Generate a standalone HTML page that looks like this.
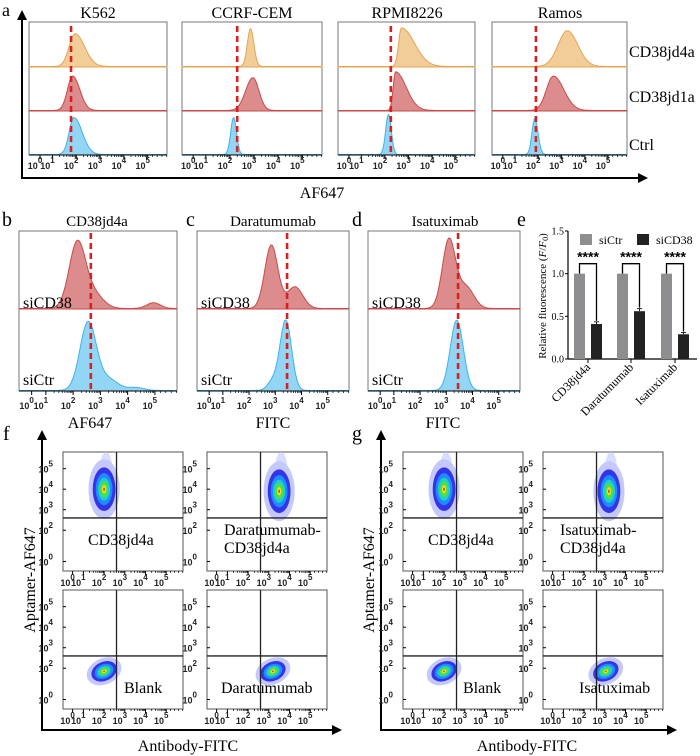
<!DOCTYPE html>
<html><head><meta charset="utf-8">
<style>
html,body{margin:0;padding:0;background:#fff;}
svg{display:block;font-family:"Liberation Serif",serif;}
.tk{font-family:"Liberation Sans",sans-serif;font-size:9px;font-weight:bold;fill:#222;}
</style></head>
<body>
<svg id="fig" width="700" height="756" viewBox="0 0 700 756" xmlns="http://www.w3.org/2000/svg">
<defs>
<marker id="arr" viewBox="0 0 10 10" refX="8" refY="5" markerWidth="5" markerHeight="5" orient="auto"><path d="M0,0 L10,5 L0,10 z" fill="#000"/></marker>
</defs>
<text x="2" y="16" font-size="18">a</text>
<text x="2" y="226" font-size="20">b</text>
<text x="186" y="226" font-size="20">c</text>
<text x="352" y="226" font-size="20">d</text>
<text x="517" y="226" font-size="20">e</text>
<text x="3" y="440" font-size="20">f</text>
<text x="352" y="440" font-size="20">g</text>
<text x="98" y="18" font-size="16" text-anchor="middle">K562</text>
<text x="252" y="18" font-size="16" text-anchor="middle">CCRF-CEM</text>
<text x="407" y="18" font-size="16" text-anchor="middle">RPMI8226</text>
<text x="560" y="18" font-size="16" text-anchor="middle">Ramos</text>
<text x="629" y="57" font-size="16">CD38jd4a</text>
<text x="629" y="102" font-size="16">CD38jd1a</text>
<text x="629" y="150" font-size="16">Ctrl</text>
<line x1="22" y1="178" x2="22" y2="12" stroke="#000" stroke-width="2" marker-end="url(#arr)"/>
<line x1="21" y1="178" x2="646" y2="178" stroke="#000" stroke-width="2" marker-end="url(#arr)"/>
<text x="322" y="198" font-size="16" text-anchor="middle">AF647</text>
<text x="97" y="226" font-size="15" text-anchor="middle">CD38jd4a</text>
<text x="273" y="226" font-size="15" text-anchor="middle">Daratumumab</text>
<text x="445" y="226" font-size="15" text-anchor="middle">Isatuximab</text>
<text x="90" y="428" font-size="16" text-anchor="middle">AF647</text>
<text x="273" y="428" font-size="16" text-anchor="middle">FITC</text>
<text x="443" y="428" font-size="16" text-anchor="middle">FITC</text>
<line x1="42" y1="730" x2="42" y2="432" stroke="#000" stroke-width="2" marker-end="url(#arr)"/>
<line x1="41" y1="730" x2="340" y2="730" stroke="#000" stroke-width="2" marker-end="url(#arr)"/>
<line x1="381" y1="730" x2="381" y2="432" stroke="#000" stroke-width="2" marker-end="url(#arr)"/>
<line x1="380" y1="730" x2="675" y2="730" stroke="#000" stroke-width="2" marker-end="url(#arr)"/>
<text transform="translate(35,580) rotate(-90)" font-size="16" text-anchor="middle">Aptamer-AF647</text>
<text transform="translate(374,580) rotate(-90)" font-size="16" text-anchor="middle">Aptamer-AF647</text>
<text x="188" y="751" font-size="16" text-anchor="middle">Antibody-FITC</text>
<text x="527" y="751" font-size="16" text-anchor="middle">Antibody-FITC</text>
<g id="layer"></g>
</svg>
<script>
// ===== Data =====
const aLines = ['K562','CCRF-CEM','RPMI8226','Ramos'];
const aGate = [1.78, 2.3, 2.25, 1.9];
const aPeakCenters = [[1.95,1.85,1.9],[2.85,2.95,2.15],[2.7,2.45,2.15],[3.25,2.65,1.85]];
const aPeakLeftW  = [[0.25,0.22,0.2],[0.13,0.3,0.12],[0.12,0.1,0.12],[0.4,0.3,0.12]];
const aPeakRightW = [[0.4,0.3,0.35],[0.14,0.25,0.12],[0.55,0.45,0.12],[0.45,0.45,0.14]];
const aPeakHeights = [[0.78,0.82,0.88],[0.9,0.78,0.88],[0.92,0.92,0.95],[0.85,0.82,0.85]];
const bdTitles = ['CD38jd4a','Daratumumab','Isatuximab'];
const bdGate = [2.65, 3.45, 3.45];
const bdRedCenters = [[2.15,2.75,4.95],[2.85,3.75],[3.1,3.75]];
const bdRedWidths = [[0.3,0.35,0.25],[0.25,0.3],[0.25,0.3]];
const bdRedHeights = [[0.9,0.2,0.08],[0.88,0.3],[0.95,0.3]];
const bdBlueCenters = [[2.55,3.3,4.3],[3.4,2.9],[3.4]];
const bdBlueWidths = [[0.3,0.35,0.3],[0.22,0.2],[0.25]];
const bdBlueHeights = [[0.92,0.15,0.04],[0.95,0.12],[0.95]];
const eCategories = ['CD38jd4a','Daratumumab','Isatuximab'];
const eSiCtr = [1.0, 1.0, 1.0];
const eSiCD38 = [0.41, 0.56, 0.29];
const eErr = [0.025, 0.03, 0.02];
const eTicks = [0.0, 0.5, 1.0, 1.5];
const eSig = ['****','****','****'];
const fLabels = [['CD38jd4a'],['Daratumumab-','CD38jd4a'],['Blank'],['Daratumumab']];
const gLabels = [['CD38jd4a'],['Isatuximab-','CD38jd4a'],['Blank'],['Isatuximab']];
const fClusterX = [2.0, 3.5, 2.0, 3.2];
const fClusterY = [4.0, 3.9, 1.85, 1.85];
const gClusterX = [2.0, 3.2, 2.0, 3.05];
const gClusterY = [4.0, 3.9, 1.85, 1.85];
const fLabelOffsetX = [25, 17, 61, 14];
const gLabelOffsetX = [25, 17, 60, 36];
const quadGate = [2.6, 2.6];

const NS='http://www.w3.org/2000/svg';
const layer=document.getElementById('layer');
function mk(tag,attrs,parent){const e=document.createElementNS(NS,tag);for(const k in attrs)e.setAttribute(k,attrs[k]);(parent||layer).appendChild(e);return e;}
function frac(d){return d<1?0.08+0.09*Math.max(d,-0.5):0.17+(d-1)*0.1725;}
function xScale(x0,w){return d=>x0+frac(d)*w;}

function ticksBottom(x0,w,yb,labY){
  const sx=xScale(x0,w);
  for(let d=0;d<=5;d++){
    const t=mk('line',{x1:sx(d),x2:sx(d),y1:yb,y2:yb+4,stroke:'#000','stroke-width':1});
    
    
    if(d>=1&&d<5){for(let k=2;k<10;k++){const v=d+Math.log10(k);const m=mk('line',{x1:sx(v),x2:sx(v),y1:yb,y2:yb+2,stroke:'#000','stroke-width':0.7});
      
      }}
    const tx=mk('text',{x:sx(d)-5,y:labY,class:'tk','text-anchor':'middle'});
    
    
    tx.textContent='10';
    const sp=mk('tspan',{dy:-6,'font-size':8},tx);sp.textContent=String(d);
  }
  for(let v=5.2;v<5.9;v+=0.2){const m=mk('line',{x1:sx(v),x2:sx(v),y1:yb,y2:yb+2,stroke:'#000','stroke-width':0.7});
    
    }
}
function hist(x0,w,base,hgt,cs,wl,wr,hs,fill,stroke,name){
  let pts=[];
  for(let i=0;i<=200;i++){const px=x0+w*i/200;
    const f=i/200;const d=f<0.17?(f-0.08)/0.09:1+(f-0.17)/0.1725;
    let v=0;for(let j=0;j<cs.length;j++){const s=d<cs[j]?wl[j]:wr[j];v+=hs[j]*Math.exp(-Math.pow(d-cs[j],2)/(2*s*s));}
    pts.push([px,base-Math.min(v,1)*hgt-0.5]);}
  let dstr='M'+x0+','+base+' '+pts.map(p=>'L'+p[0].toFixed(1)+','+p[1].toFixed(1)).join(' ')+' L'+(x0+w)+','+base+' Z';
  const p=mk('path',{d:dstr,fill:fill,stroke:stroke,'stroke-width':1});
  
  
}
function gate(x,y1,y2,name){const l=mk('line',{x1:x,x2:x,y1:y1,y2:y2,stroke:'#d91f1f','stroke-width':2.6,'stroke-dasharray':'6,4'});
  
  }
const COL={o:['#f3cd98','#e3a453'],r:['#dc8c8c','#c94a4a'],b:['#93d5f5','#3fb2ea']};

// Panel a
const aBoxX=[29,182,338,492], aBoxW=[138,140,137,135];
const aTop=22,aBot=155,aRows=[67,111,155];
aLines.forEach((nm,i)=>{
  const x0=aBoxX[i],w=aBoxW[i];
  const r=mk('rect',{x:x0,y:aTop,width:w,height:aBot-aTop,fill:'none',stroke:'#777','stroke-width':1});
  
  
  const keys=['o','r','b'], rowNames=['cd38jd4a','cd38jd1a','ctrl'];
  for(let k=0;k<3;k++){
    const base=aRows[k];
    const bl=mk('line',{x1:x0,x2:x0+w,y1:base,y2:base,stroke:COL[keys[k]][0],'stroke-width':1});
    
    
    hist(x0,w,base,42,[aPeakCenters[i][k]],[aPeakLeftW[i][k]],[aPeakRightW[i][k]],[aPeakHeights[i][k]],COL[keys[k]][0],COL[keys[k]][1],'histogram-'+nm.toLowerCase()+'-'+rowNames[k]);
  }
  const ax=mk('line',{x1:x0,x2:x0+w,y1:aBot,y2:aBot,stroke:'#000','stroke-width':1});
  
  
  ticksBottom(x0,w,aBot,169);
  gate(xScale(x0,w)(aGate[i]),aTop+4,aBot,'gate-line-'+nm.toLowerCase());
});

// Panels b-d
const bdX=[19,197,368], bdW=[158,152,152], bdTop=231, bdMid=309, bdBot=391;
bdTitles.forEach((nm,i)=>{
  const x0=bdX[i],w=bdW[i];
  const r=mk('rect',{x:x0,y:bdTop,width:w,height:bdBot-bdTop,fill:'none',stroke:'#777','stroke-width':1});
  
  
  hist(x0,w,bdMid,72,bdRedCenters[i],bdRedWidths[i],bdRedWidths[i],bdRedHeights[i],COL.r[0],COL.r[1],'histogram-sicd38-'+nm.toLowerCase());
  hist(x0,w,bdBot,74,bdBlueCenters[i],bdBlueWidths[i],bdBlueWidths[i],bdBlueHeights[i],COL.b[0],COL.b[1],'histogram-sictr-'+nm.toLowerCase());
  const ax=mk('line',{x1:x0,x2:x0+w,y1:bdBot,y2:bdBot,stroke:'#000','stroke-width':1});
  
  
  ticksBottom(x0,w,bdBot,409);
  gate(xScale(x0,w)(bdGate[i]),bdTop+2,bdBot,'gate-line-'+nm.toLowerCase());
  const t1=mk('text',{x:x0+4,y:308,'font-size':16});
  
  
  t1.textContent='siCD38';
  const t2=mk('text',{x:x0+4,y:385,'font-size':16});
  
  
  t2.textContent='siCtr';
});

// Panel e
const eX0=568,eY0=359,eY15=231;
const ey=v=>eY0-(v/1.5)*(eY0-eY15);
const eCenters=[588,631,675];
const ax1=mk('line',{x1:eX0,x2:eX0,y1:eY15,y2:eY0,stroke:'#000','stroke-width':1.2});


const ax2=mk('line',{x1:eX0,x2:697,y1:eY0,y2:eY0,stroke:'#000','stroke-width':1.2});


eTicks.forEach(v=>{
  const t=mk('line',{x1:eX0-3,x2:eX0,y1:ey(v),y2:ey(v),stroke:'#000'});
  
  
  const l=mk('text',{x:eX0-4,y:ey(v)+3.5,'font-size':10,'text-anchor':'end'});
  
  
  l.textContent=v.toFixed(1);
});
eCategories.forEach((c,i)=>{
  const cx=eCenters[i];
  const g1=mk('rect',{x:cx-14,y:ey(eSiCtr[i]),width:11,height:eY0-ey(eSiCtr[i]),fill:'#8e8e90'});
  
  
  const g2=mk('rect',{x:cx+3,y:ey(eSiCD38[i]),width:11,height:eY0-ey(eSiCD38[i]),fill:'#222'});
  
  
  const eb=mk('path',{d:`M${cx+8.5},${ey(eSiCD38[i]+eErr[i])} V${ey(eSiCD38[i])} M${cx+6},${ey(eSiCD38[i]+eErr[i])} H${cx+11}`,stroke:'#222','stroke-width':1,fill:'none'});
  
  
  const tk=mk('line',{x1:cx,x2:cx,y1:eY0,y2:eY0+4,stroke:'#000'});
  
  
  const topY=ey(1.0)-10;
  const br=mk('path',{d:`M${cx-8.5},${ey(eSiCtr[i])} V${topY} H${cx+8.5} V${ey(eSiCD38[i]+eErr[i])-1}`,stroke:'#000','stroke-width':1.3,fill:'none'});
  
  
  const st=mk('text',{x:cx,y:topY-2,'font-size':14,'font-weight':'bold','text-anchor':'middle','font-family':'Liberation Sans,sans-serif'});
  
  
  st.textContent=eSig[i];
  const xl=mk('text',{transform:`translate(${cx+3},${eY0+9}) rotate(-45)`,'font-size':12,'text-anchor':'end'});
  
  
  xl.textContent=c;
});
const lg1=mk('rect',{x:580,y:234,width:12,height:11,fill:'#8e8e90'});


const lt1=mk('text',{x:599,y:244,'font-size':12});


lt1.textContent='siCtr';
const lg2=mk('rect',{x:637,y:234,width:12,height:11,fill:'#222'});


const lt2=mk('text',{x:656,y:244,'font-size':12});


lt2.textContent='siCD38';
const yl=mk('text',{transform:'translate(546,296) rotate(-90)','font-size':11,'text-anchor':'middle'});


yl.innerHTML='Relative fluorescence (<tspan font-style="italic">F</tspan>/<tspan font-style="italic">F</tspan><tspan font-size="8" dy="2">0</tspan><tspan dy="-2">)</tspan>';

// Panels f, g
function scatterPanel(x0,y0,w,h,cxD,cyD,labels,name,gx,gy,lx){
  const sx=d=>x0+frac(d)*w, sy=d=>y0+h-frac(d)*h;
  const r=mk('rect',{x:x0,y:y0,width:w,height:h,fill:'#fff',stroke:'#555','stroke-width':1});
  
  
  const cx=sx(cxD), cy=sy(cyD);
  const high=cyD>3;
  const rings=[['#c4c8fa',1.3],['#3434e8',0.95],['#1e8cff',0.7],['#20d0c8',0.5],['#50e040',0.34],['#e8e020',0.18],['#e04020',0.07]];
  const rx0=high?12:14, ry0=high?23:10;
  const grp=mk('g',{transform:`rotate(${high?0:-25},${cx},${cy})`});
  
  
  if(high){const s=mk('ellipse',{cx:cx+2,cy:y0+16,rx:6,ry:16,fill:'#d0d4ff',opacity:0.8},grp);
    
    }
  rings.forEach(([c,k])=>{const e=mk('ellipse',{cx:cx,cy:cy,rx:rx0*k,ry:ry0*k,fill:c},grp);
    
    });
  const vl=mk('line',{x1:sx(gx),x2:sx(gx),y1:y0,y2:y0+h,stroke:'#222','stroke-width':1.3});
  
  
  const hl=mk('line',{x1:x0,x2:x0+w,y1:sy(gy),y2:sy(gy),stroke:'#222','stroke-width':1.3});
  
  
  ticksBottom(x0,w,y0+h,y0+h+15);
  [0,2,3,4,5].forEach(d=>{const t=mk('text',{x:x0-10,y:sy(d)+4,class:'tk','text-anchor':'end'});
    
    
    t.textContent='10';const sp=mk('tspan',{dy:-6,'font-size':8},t);sp.textContent=String(d);
    const tk=mk('line',{x1:x0,x2:x0+3,y1:sy(d),y2:sy(d),stroke:'#000'});
    
    });
  const tx=x0+lx, ty=labels.length>1?y0+83:(high?y0+93:y0+103);
  labels.forEach((s,i)=>{const t=mk('text',{x:tx,y:ty+i*18,'font-size':16});
    
    
    t.textContent=s;});
}
const sX=[[63,207],[403,543]], sY=[452,590], sW=120, sH=119;
for(let k=0;k<4;k++){
  const col=k%2,row=Math.floor(k/2);
  scatterPanel(sX[0][col],sY[row],sW,sH,fClusterX[k],fClusterY[k],fLabels[k],'f'+k,quadGate[0],quadGate[1],fLabelOffsetX[k]);
  scatterPanel(sX[1][col],sY[row],sW,sH,gClusterX[k],gClusterY[k],gLabels[k],'g'+k,quadGate[0],quadGate[1],gLabelOffsetX[k]);
}
</script>
</body></html>
